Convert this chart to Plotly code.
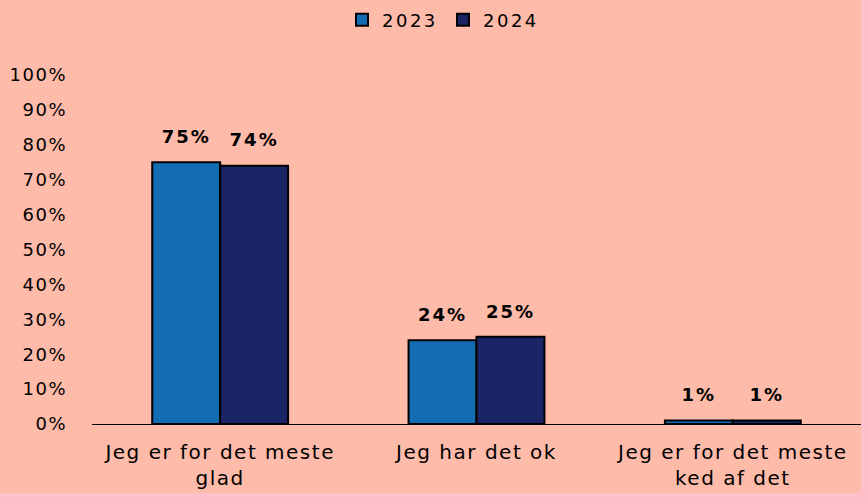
import plotly.graph_objects as go

categories = ["Jeg er for det meste<br>glad", "Jeg har det ok", "Jeg er for det meste<br>ked af det"]
values_2023 = [75, 24, 1]
values_2024 = [74, 25, 1]
series_names = ["2023", "2024"]
tick_vals = [0, 10, 20, 30, 40, 50, 60, 70, 80, 90, 100]
tick_text = [f"{v}%" for v in tick_vals]

BG = "#FFBBA9"
FONT = "DejaVu Sans"
colors = ["#136DB2", "#1B2565"]

fig = go.Figure()
for i, (name, vals) in enumerate([(series_names[0], values_2023), (series_names[1], values_2024)]):
    fig.add_trace(go.Bar(
        name=name, x=categories, y=vals, offsetgroup=str(i),
        marker=dict(color=colors[i], line=dict(color="black", width=2)),
        hoverinfo="skip",
    ))
for i, vals in enumerate([values_2023, values_2024]):
    fig.add_trace(go.Scatter(
        x=categories, y=vals, offsetgroup=str(i), mode="markers+text",
        marker=dict(size=22, color="rgba(0,0,0,0)"),
        text=[f"{v}%" for v in vals], textposition="top center",
        textfont=dict(family=FONT, size=18, color="black", weight="bold"),
        showlegend=False, cliponaxis=False, hoverinfo="skip",
    ))

fig.update_layout(
    width=861, height=493,
    paper_bgcolor=BG, plot_bgcolor=BG,
    margin=dict(l=92, r=0, t=75, b=69),
    barmode="group", bargap=0.47, bargroupgap=0,
    scattermode="group", scattergap=0.47,
    font=dict(family=FONT, size=18, color="black"),
    showlegend=True,
    legend=dict(orientation="h", xref="container", x=(356 - 14) / 861, xanchor="left",
                yref="container", y=1 - 20 / 493, yanchor="middle",
                font=dict(size=18), itemwidth=30, entrywidth=56,
                bgcolor="rgba(0,0,0,0)", traceorder="normal"),
    xaxis=dict(showline=True, linecolor="black", linewidth=1, ticks="",
               tickfont=dict(size=20), showgrid=False, ticklabelstandoff=10),
    yaxis=dict(range=[0, 100], tickvals=tick_vals, ticktext=tick_text,
               showgrid=False, zeroline=False, showline=False, ticks="",
               tickfont=dict(size=18), ticklabelstandoff=24),
)

post_js = """
document.body.style.margin = '0';
var gd = document.getElementById('{plot_id}');
function spaceText(sel, px) {
  gd.querySelectorAll(sel).forEach(function(t){ t.style.letterSpacing = px; });
}
spaceText('.xtick text', '1.5px');
spaceText('.ytick text', '1.5px');
spaceText('.legendtext', '2.5px');
spaceText('.scatterlayer .textpoint text', '2px');
"""

fig.write_html("out.html", post_script=post_js, config={"displayModeBar": False})
